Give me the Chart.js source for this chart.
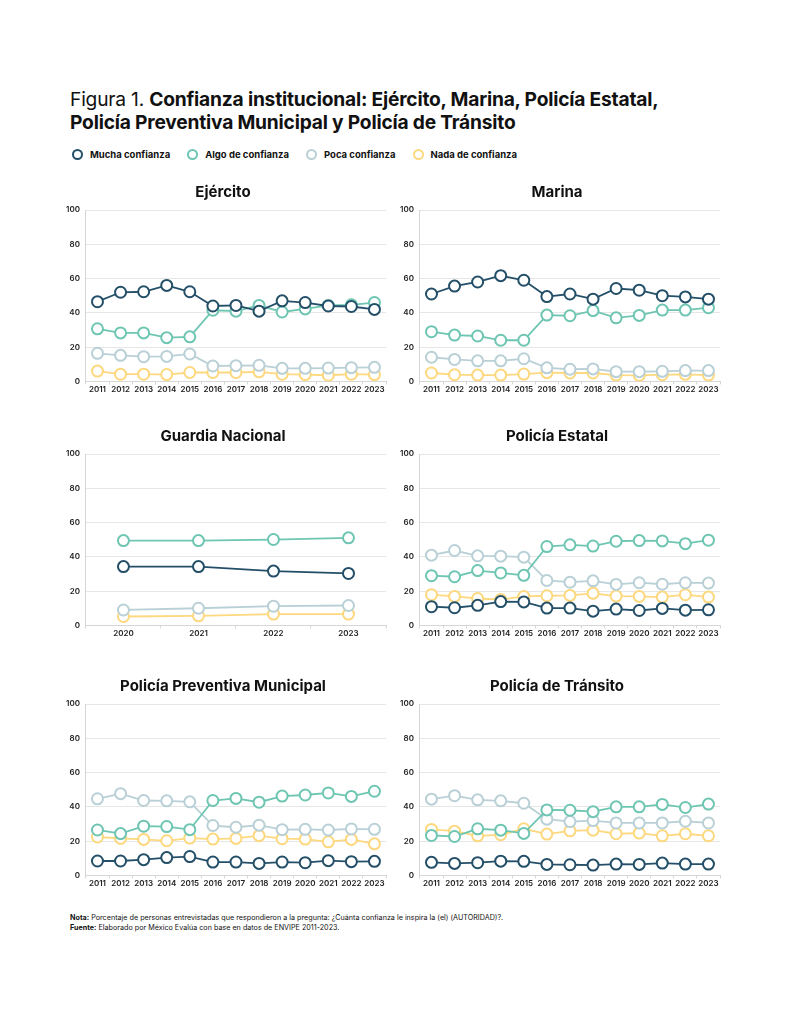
<!DOCTYPE html>
<html>
<head>
<meta charset="utf-8">
<script src="https://cdn.jsdelivr.net/npm/chart.js@4"></script>
<style>
  body { margin: 0; background: #fff; font-family: Inter, "Noto Sans", sans-serif; color: #111; }
  #page { position: relative; width: 792px; height: 1024px; }
  .title { position: absolute; left: 70px; top: 88px; font-size: 19.2px; line-height: 23px; letter-spacing: -0.2px; }
  .legend { position: absolute; left: 72px; top: 149px; font-size: 9.5px; font-weight: 700; display: flex; }
  .legend span.item { display: flex; align-items: center; margin-right: 17px; }
  .legend i { display: inline-block; width: 7px; height: 7px; border-radius: 50%; border: 2px solid; margin-right: 7px; background: #fff; }
  .panel { position: absolute; width: 335px; height: 212px; }
  .notes { position: absolute; left: 70px; top: 913px; font-size: 7.2px; line-height: 10px; }
</style>
</head>
<body>
<div id="page">
  <div class="title">Figura 1. <b>Confianza institucional: Ejército, Marina, Policía Estatal,<br>Policía Preventiva Municipal y Policía de Tránsito</b></div>
  <div class="legend" id="legend"></div>
  <div class="panel" style="left:60px;top:182px"><canvas id="c0"></canvas></div>
  <div class="panel" style="left:394px;top:182px"><canvas id="c1"></canvas></div>
  <div class="panel" style="left:60px;top:426px"><canvas id="c2"></canvas></div>
  <div class="panel" style="left:394px;top:426px"><canvas id="c3"></canvas></div>
  <div class="panel" style="left:60px;top:676px"><canvas id="c4"></canvas></div>
  <div class="panel" style="left:394px;top:676px"><canvas id="c5"></canvas></div>
  <div class="notes"><b>Nota:</b> Porcentaje de personas entrevistadas que respondieron a la pregunta: ¿Cuánta confianza le inspira la (el) (AUTORIDAD)?.<br><b>Fuente:</b> Elaborado por México Evalúa con base en datos de ENVIPE 2011-2023.</div>
</div>
<script>
const years = ['2011','2012','2013','2014','2015','2016','2017','2018','2019','2020','2021','2022','2023'];
const yearsGN = ['2020','2021','2022','2023'];
const seriesNames = ['Mucha confianza', 'Algo de confianza', 'Poca confianza', 'Nada de confianza'];
const seriesColors = ['#244f68', '#6ec6b2', '#b9d0d6', '#fdd87e'];

// Ejército
const ejercitoMucha = [46.5, 52, 52.3, 56, 52.3, 44, 44.3, 41, 47, 46, 44, 43.7, 42];
const ejercitoAlgo  = [30.7, 28.3, 28.3, 25.5, 26, 41.5, 41, 44.3, 40.5, 42.3, 44.3, 44.7, 46];
const ejercitoPoca  = [16.4, 15.2, 14.4, 14.6, 16, 9, 9.2, 9.4, 7.6, 7.6, 7.8, 8, 8.2];
const ejercitoNada  = [6, 4.2, 4.2, 4, 5.2, 5.2, 5.2, 5.6, 4.2, 4, 3.6, 4.2, 4];

// Marina
const marinaMucha = [51, 55.6, 58, 61.7, 59, 49.5, 51, 48, 54.2, 53.2, 50, 49.3, 48];
const marinaAlgo  = [29, 27, 26.5, 24, 24, 38.7, 38.3, 41.3, 37.1, 38.5, 41.6, 41.6, 43];
const marinaPoca  = [14.1, 12.8, 12, 12, 13.2, 7.9, 7.1, 7.3, 5.7, 5.7, 5.9, 6.3, 6.3];
const marinaNada  = [4.9, 3.9, 3.7, 3.7, 4.3, 5.1, 4.9, 4.9, 3.7, 3.5, 3.9, 4.1, 3.7];

// Guardia Nacional
const guardiaMucha = [34.3, 34.3, 31.7, 30.3];
const guardiaAlgo  = [49.5, 49.5, 50.1, 51.1];
const guardiaPoca  = [9, 10, 11.2, 11.6];
const guardiaNada  = [5.2, 5.6, 6.6, 6.6];

// Policía Estatal
const estatalMucha = [10.9, 10.3, 11.7, 13.9, 13.7, 10.1, 10.1, 8.3, 9.5, 8.7, 9.9, 8.9, 9.1];
const estatalAlgo  = [29, 28.4, 32, 30.6, 29.2, 46, 47, 46.3, 49.1, 49.5, 49.3, 47.7, 49.7];
const estatalPoca  = [41, 43.7, 40.6, 40.4, 39.8, 26.2, 25.2, 26, 23.9, 24.9, 24, 24.9, 24.7];
const estatalNada  = [17.9, 16.9, 15.7, 15.1, 16.9, 17.3, 17.5, 18.7, 17.1, 16.9, 16.5, 17.9, 16.5];

// Policía Preventiva Municipal
const municipalMucha = [8.4, 8.4, 9.2, 10.4, 11, 7.8, 7.8, 7, 7.8, 7.4, 8.6, 8, 8.2];
const municipalAlgo  = [26.5, 24.4, 28.7, 28.5, 26.7, 43.7, 44.9, 42.7, 46.3, 46.9, 48.1, 46.1, 49.1];
const municipalPoca  = [44.7, 47.7, 43.7, 43.5, 42.9, 29.1, 28.1, 29.3, 26.7, 26.9, 26.5, 27.1, 26.9];
const municipalNada  = [22.4, 21.6, 21, 20.2, 21.8, 21.2, 21.6, 23.2, 21.4, 21.2, 19.6, 21, 18.4];

// Policía de Tránsito
const transitoMucha = [7.6, 7, 7.4, 8.3, 8.2, 6.4, 6.2, 6, 6.6, 6.4, 7.2, 6.6, 6.6];
const transitoAlgo  = [23.3, 22.7, 27.2, 26.4, 24.5, 38.2, 38, 37.2, 40, 40, 41.4, 39.6, 41.6];
const transitoPoca  = [44.5, 46.5, 44.1, 43.5, 42.1, 32.8, 31.4, 32, 30.6, 30.6, 30.6, 31.6, 30.6];
const transitoNada  = [26.8, 25.8, 23.1, 23.7, 27.2, 24.1, 26, 26.4, 24.3, 24.7, 23.1, 24.3, 23.1];

const yTicks = [0, 20, 40, 60, 80, 100];

const panels = [
    { title: 'Ejército', labels: years, data: [ejercitoMucha, ejercitoAlgo, ejercitoPoca, ejercitoNada] },
    { title: 'Marina', labels: years, data: [marinaMucha, marinaAlgo, marinaPoca, marinaNada] },
    { title: 'Guardia Nacional', labels: yearsGN, data: [guardiaMucha, guardiaAlgo, guardiaPoca, guardiaNada] },
    { title: 'Policía Estatal', labels: years, data: [estatalMucha, estatalAlgo, estatalPoca, estatalNada] },
    { title: 'Policía Preventiva Municipal', labels: years, data: [municipalMucha, municipalAlgo, municipalPoca, municipalNada] },
    { title: 'Policía de Tránsito', labels: years, data: [transitoMucha, transitoAlgo, transitoPoca, transitoNada] }
];

// shared legend
const legend = document.getElementById('legend');
seriesNames.forEach((name, i) => {
    const item = document.createElement('span');
    item.className = 'item';
    item.innerHTML = `<i style="border-color:${seriesColors[i]}"></i>${name}`;
    legend.appendChild(item);
});

const fontFamily = 'Inter, "Noto Sans", sans-serif';

panels.forEach((panel, idx) => {
    // Mucha drawn on top
    const datasets = panel.data.map((vals, i) => ({
        label: seriesNames[i],
        data: vals,
        borderColor: seriesColors[i],
        backgroundColor: '#fff',
        pointBackgroundColor: '#fff',
        pointBorderColor: seriesColors[i],
        pointBorderWidth: 2,
        pointRadius: 5.5,
        borderWidth: 1.8,
        tension: 0,
        order: i
    }));
    new Chart(document.getElementById('c' + idx), {
        type: 'line',
        data: { labels: panel.labels, datasets: datasets },
        options: {
            responsive: true,
            maintainAspectRatio: false,
            animation: false,
            layout: { padding: { left: 0, right: 9, top: 0, bottom: 0 } },
            plugins: {
                legend: { display: false },
                tooltip: { enabled: false },
                title: {
                    display: true,
                    text: panel.title,
                    color: '#111',
                    font: { family: fontFamily, size: 15, weight: 'bold' },
                    padding: { top: 1, bottom: 9 }
                }
            },
            scales: {
                x: {
                    offset: true,
                    grid: { offset: true, drawOnChartArea: false, drawTicks: true, tickLength: 3, color: '#d6d6d6' },
                    border: { color: '#d6d6d6' },
                    ticks: { color: '#222', font: { family: fontFamily, size: 8, weight: '600' }, padding: 0, maxRotation: 0, autoSkip: false }
                },
                y: {
                    min: 0,
                    max: 100,
                    afterBuildTicks: axis => { axis.ticks = yTicks.map(v => ({ value: v })); },
                    grid: { color: '#e6e6e6', drawTicks: false },
                    border: { color: '#d6d6d6' },
                    ticks: { color: '#222', font: { family: fontFamily, size: 8, weight: '600' }, padding: 6 }
                }
            }
        }
    });
});
</script>
</body>
</html>
